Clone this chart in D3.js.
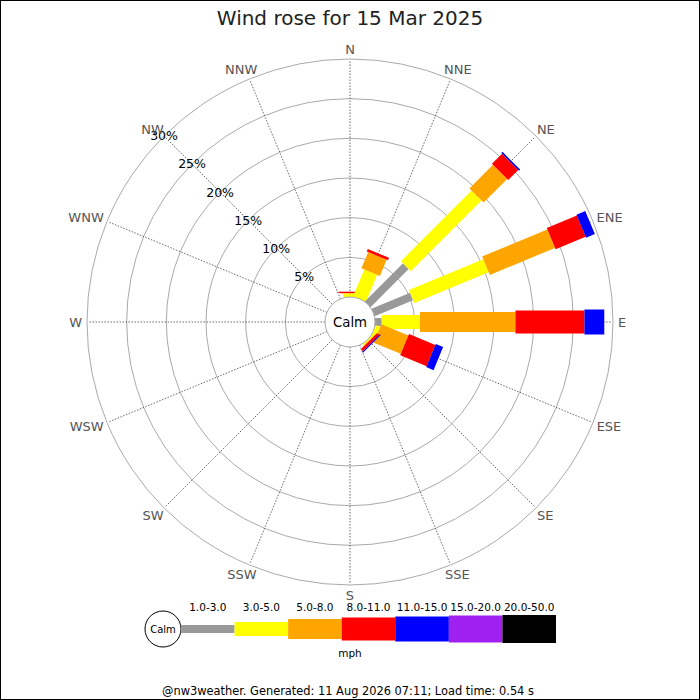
<!DOCTYPE html>
<html>
<head>
<meta charset="utf-8">
<script src="https://cdn.jsdelivr.net/npm/d3@7"></script>
<style>
  body { margin: 0; background: #fff; }
  svg { display: block; font-family: "DejaVu Sans", sans-serif; }
</style>
</head>
<body>
<div id="chart"></div>
<script>
// Wind rose data, percent of time per direction and speed bin
const directions = ['N', 'NNE', 'NE', 'ENE', 'E', 'ESE', 'SE', 'SSE',
                    'S', 'SSW', 'SW', 'WSW', 'W', 'WNW', 'NW', 'NNW'];
const speedBins = ['1.0-3.0', '3.0-5.0', '5.0-8.0', '8.0-11.0', '11.0-15.0', '15.0-20.0', '20.0-50.0'];
const binColors = ['#999999', '#ffff00', '#ffa500', '#ff0000', '#0000ff', '#a020f0', '#000000'];
const percentTicks = [5, 10, 15, 20, 25, 30];

// one row per direction, one value per speed bin (not cumulative)
const binN   = [0,    0.45,  0.05,  0.17, 0,    0, 0];
const binNNE = [0,    3.66,  2.2,   0.34, 0,    0, 0];
const binNE  = [6.8,  12.6,  4.2,   1.8,  0.2,  0, 0];
const binENE = [5.25, 10.15, 8.9,   4.1,  1.2,  0, 0];
const binE   = [0.84, 4.83,  12.03, 8.7,  2.5,  0, 0];
const binESE = [0,    0.6,   3.7,   3.6,  1.0,  0, 0];
const binSE  = [0,    0.2,   0.05,  0.35, 0.15, 0, 0];
const empty  = [0, 0, 0, 0, 0, 0, 0];
const roseData = [binN, binNNE, binNE, binENE, binE, binESE, binSE, empty,
                  empty, empty, empty, empty, empty, empty, empty, empty];

const W = 700, H = 700;
const cx = 350, cy = 322;
const calmR = 25;
const barWidths = [8, 14, 20, 23, 25, 27, 28];

const svg = d3.select('#chart').append('svg')
    .attr('width', W)
    .attr('height', H);

svg.append('rect')
    .attr('x', 0.5).attr('y', 0.5)
    .attr('width', W - 1).attr('height', H - 1)
    .attr('fill', '#fff')
    .attr('stroke', '#000');

const rScale = d3.scaleLinear().domain([0, 30]).range([calmR, 263]);
const angle = d => d * 22.5;
const px = (deg, r) => cx + r * Math.sin(deg * Math.PI / 180);
const py = (deg, r) => cy - r * Math.cos(deg * Math.PI / 180);

// title
svg.append('text')
    .attr('x', cx).attr('y', 25)
    .attr('text-anchor', 'middle')
    .attr('font-size', '20px')
    .attr('fill', '#222')
    .text('Wind rose for 15 Mar 2025');

// rings
svg.append('g').selectAll('circle')
    .data(percentTicks)
    .join('circle')
    .attr('cx', cx).attr('cy', cy)
    .attr('r', d => rScale(d))
    .attr('fill', 'none')
    .attr('stroke', '#aaa')
    .attr('stroke-width', 1);

// spokes
svg.append('g').selectAll('line')
    .data(directions)
    .join('line')
    .attr('x1', (d, i) => px(angle(i), calmR))
    .attr('y1', (d, i) => py(angle(i), calmR))
    .attr('x2', (d, i) => px(angle(i), rScale(30) - 1))
    .attr('y2', (d, i) => py(angle(i), rScale(30) - 1))
    .attr('stroke', '#444')
    .attr('stroke-width', 0.8)
    .attr('stroke-dasharray', '1.5,1.5');

// stacked bars
const bars = svg.append('g').attr('class', 'bars');
roseData.forEach((vals, i) => {
    const g = bars.append('g')
        .attr('transform', `translate(${cx},${cy}) rotate(${angle(i) - 90})`);
    let cum = 0;
    const segs = vals.map((v, b) => {
        const s = { b, from: cum, to: cum + v };
        cum += v;
        return s;
    }).filter(s => s.to > s.from);
    g.selectAll('rect')
        .data(segs)
        .join('rect')
        .attr('x', s => rScale(s.from))
        .attr('width', s => rScale(s.to) - rScale(s.from))
        .attr('y', s => -barWidths[s.b] / 2)
        .attr('height', s => barWidths[s.b])
        .attr('fill', s => binColors[s.b]);
});

// calm circle
svg.append('circle')
    .attr('cx', cx).attr('cy', cy).attr('r', calmR)
    .attr('fill', '#fff')
    .attr('stroke', '#aaa');
svg.append('text')
    .attr('x', cx).attr('y', cy)
    .attr('dy', '0.35em')
    .attr('text-anchor', 'middle')
    .attr('font-size', '13.3px')
    .text('Calm');

// percent labels along NW
svg.append('g').selectAll('text')
    .data(percentTicks)
    .join('text')
    .attr('x', d => px(315, rScale(d)))
    .attr('y', d => py(315, rScale(d)))
    .attr('dy', '0.35em')
    .attr('text-anchor', 'middle')
    .attr('font-size', '12.5px')
    .attr('fill', '#000')
    .text(d => d + '%');

// direction labels, pushed out by half their size
const labelR = 268;
svg.append('g').selectAll('text')
    .data(directions)
    .join('text')
    .attr('text-anchor', 'middle')
    .attr('dy', '0.35em')
    .attr('font-size', '13px')
    .attr('fill', '#555')
    .text(d => d)
    .each(function (d, i) {
        const a = angle(i) * Math.PI / 180;
        const w = this.getComputedTextLength();
        const h = 10;
        d3.select(this)
            .attr('x', cx + labelR * Math.sin(a) + (w / 2) * Math.sin(a))
            .attr('y', cy - labelR * Math.cos(a) - (h / 2) * Math.cos(a));
    });

// legend
const legY = 629;
const legX0 = 181, legX1 = 556;
const xLeg = d3.scaleBand().domain(speedBins).range([legX0, legX1]);

svg.append('circle')
    .attr('cx', 163).attr('cy', legY).attr('r', 18)
    .attr('fill', '#fff')
    .attr('stroke', '#000');
svg.append('text')
    .attr('x', 163).attr('y', legY)
    .attr('dy', '0.35em')
    .attr('text-anchor', 'middle')
    .attr('font-size', '10px')
    .text('Calm');

const leg = svg.append('g');
leg.selectAll('rect')
    .data(speedBins)
    .join('rect')
    .attr('x', d => xLeg(d))
    .attr('width', xLeg.bandwidth())
    .attr('y', (d, i) => legY - barWidths[i] / 2)
    .attr('height', (d, i) => barWidths[i])
    .attr('fill', (d, i) => binColors[i]);
leg.selectAll('text')
    .data(speedBins)
    .join('text')
    .attr('x', d => xLeg(d) + xLeg.bandwidth() / 2)
    .attr('y', 611)
    .attr('text-anchor', 'middle')
    .attr('font-size', '10.5px')
    .text(d => d);

svg.append('text')
    .attr('x', cx).attr('y', 657)
    .attr('text-anchor', 'middle')
    .attr('font-size', '10.5px')
    .text('mph');

// footer
svg.append('text')
    .attr('x', 348).attr('y', 695)
    .attr('text-anchor', 'middle')
    .attr('font-size', '11.4px')
    .text('@nw3weather. Generated: 11 Aug 2026 07:11; Load time: 0.54 s');
</script>
</body>
</html>
